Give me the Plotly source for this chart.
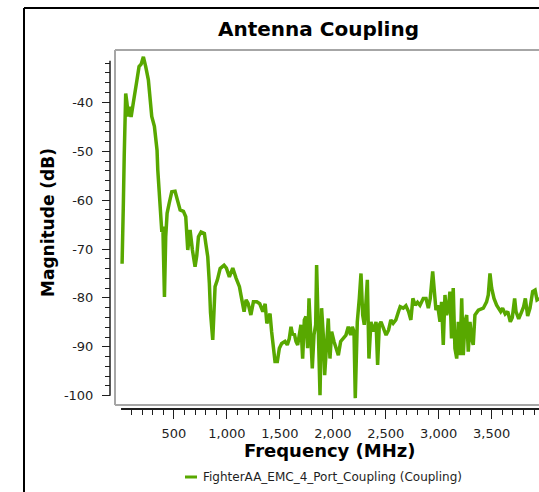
import plotly.graph_objects as go

title_text = "Antenna Coupling"
x_title = "Frequency (MHz)"
y_title = "Magnitude (dB)"
series_name = "FighterAA_EMC_4_Port_Coupling (Coupling)"

freq = [10, 15, 22, 30, 44, 55, 69, 80, 95, 116, 139, 150, 170, 190, 211, 222, 233, 258, 274, 290,
        315, 328, 340, 347, 359, 372, 385, 395, 410, 422, 435, 454, 479, 510, 535, 558, 589, 611, 630, 652,
        674, 699, 715, 731, 756, 787, 800, 819, 834, 845, 866, 876, 888, 910, 936, 973, 995, 1023, 1055, 1087,
        1118, 1141, 1162, 1181, 1200, 1226, 1250, 1282, 1310, 1339, 1361, 1377, 1395,
        1407, 1422, 1438, 1454, 1476, 1495, 1517, 1548, 1570, 1589, 1605, 1621, 1636, 1652, 1668, 1684, 1699, 1715, 1731, 1746,
        1762, 1775, 1791, 1806, 1822, 1838, 1847, 1863, 1879, 1894, 1910, 1923, 1942, 1957, 1973, 1989, 2011, 2030, 2052, 2074,
        2099, 2124, 2146, 2168, 2184, 2200, 2212, 2231, 2250, 2266, 2282, 2297, 2313, 2326, 2341, 2360, 2382, 2408, 2423, 2439,
        2455, 2480, 2503, 2526, 2548, 2570, 2595, 2620, 2636, 2665, 2690, 2715, 2737, 2756, 2778, 2800,
        2823, 2854, 2880, 2902, 2920, 2943, 2958, 2974, 2990, 3012, 3027, 3043, 3059, 3075, 3090, 3106, 3121, 3137, 3153, 3170,
        3185, 3201, 3217, 3232, 3248, 3264, 3279, 3295, 3311, 3326, 3342, 3374, 3421, 3452, 3468, 3484, 3500, 3522, 3547,
        3565, 3585, 3603, 3628, 3652, 3676, 3695, 3717, 3730, 3755, 3780, 3802, 3818, 3840, 3862, 3887, 3910, 3928, 3950]
magnitude = [-73.0, -69.5, -60.6, -51.1, -38.2, -40.0, -42.9, -40.9, -43.0, -40.1, -36.1, -35.5, -32.7, -32.2, -30.7, -31.5, -32.7, -35.4, -38.9, -42.9,
             -44.9, -47.0, -49.8, -53.8, -57.3, -61.3, -66.5, -65.4, -79.8, -67.5, -62.7, -60.7, -58.3, -58.2, -60.0, -62.0, -62.3, -63.4, -70.2, -66.1,
             -70.2, -73.6, -71.4, -67.5, -66.5, -66.8, -68.8, -71.6, -77.0, -83.0, -88.6, -83.5, -77.7, -76.3, -74.0, -73.3, -73.9, -75.7, -73.9, -76.0,
             -77.7, -80.4, -82.8, -80.4, -81.1, -83.5, -80.8, -80.8, -81.2, -82.8, -81.2, -85.2, -84.0,
             -83.2, -86.9, -91.0, -93.0, -93.0, -90.3, -89.3, -88.9, -89.6, -88.3, -85.9, -87.6, -87.3, -88.9, -89.6, -87.9, -85.5, -92.4, -84.5, -83.8,
             -90.3, -80.1, -88.9, -94.4, -87.6, -85.5, -73.3, -86.9, -99.9, -82.1, -87.6, -95.8, -88.3, -84.2, -92.4, -86.9, -88.9, -90.3, -91.7, -88.9,
             -88.3, -87.6, -85.9, -87.6, -85.9, -86.9, -100.5, -84.9, -80.1, -75.0, -83.5, -85.5, -80.8, -76.3, -92.4, -84.9, -86.9, -84.9, -93.7, -85.5,
             -84.9, -86.2, -87.6, -86.6, -84.5, -85.2, -84.5, -82.8, -81.8, -82.1, -81.6, -82.8, -84.5, -80.1, -81.5, -80.9,
             -81.5, -80.1, -80.1, -82.1, -80.1, -74.6, -78.7, -82.5, -81.5, -84.9, -80.8, -89.6, -79.4, -83.5, -82.1, -78.7, -88.3, -78.0, -90.3, -92.4,
             -84.9, -91.7, -80.1, -91.7, -84.9, -83.5, -91.0, -84.9, -88.3, -89.6, -83.5, -82.5, -82.1, -80.8, -79.4, -75.0, -78.0, -80.1, -81.5,
             -82.1, -82.8, -82.1, -83.3, -82.8, -84.9, -84.0, -80.1, -82.8, -84.3, -83.0, -81.8, -80.1, -83.7, -82.1, -78.7, -78.4, -80.4, -80.1]

x_tickvals = [500, 1000, 1500, 2000, 2500, 3000, 3500]
x_ticktext = ["500", "1,000", "1,500", "2,000", "2,500", "3,000", "3,500"]
x_minor = list(range(100, 4000, 100))
y_tickvals = [-100, -90, -80, -70, -60, -50, -40]
y_ticktext = ["-100", "-90", "-80", "-70", "-60", "-50", "-40"]
y_minor = list(range(-100, -31, 2))

W, H = 539, 492
ML, MR, MT, MB = 110, 0, 50, 83
PW, PH = W - ML - MR, H - MT - MB

def px(x):
    return (x - ML) / PW

def py(y):
    return (H - MB - y) / PH

green = "#58a800"
dark = "#1e1e1e"

fig = go.Figure()
fig.add_trace(go.Scatter(x=freq, y=magnitude, mode="lines", name=series_name,
                         line=dict(color=green, width=3.5), showlegend=False))

tickfont = dict(family="DejaVu Sans", size=13, color=dark)
fig.update_layout(
    width=W, height=H,
    margin=dict(l=ML, r=MR, t=MT, b=MB, pad=0),
    paper_bgcolor="white", plot_bgcolor="white",
    showlegend=False,
    xaxis=dict(domain=[5 / PW, 1], range=[-57, 3947], anchor="free", position=0,
               showgrid=False, zeroline=False, showline=False,
               tickmode="array", tickvals=x_tickvals, ticktext=x_ticktext,
               ticks="outside", ticklen=9, tickwidth=1, tickcolor=dark,
               tickfont=tickfont, ticklabelstandoff=3,
               minor=dict(tickmode="array", tickvals=x_minor, ticks="outside",
                          ticklen=5, tickwidth=1, tickcolor=dark, showgrid=False)),
    yaxis=dict(domain=[4 / PH, 1], range=[-101.9, -29.3], anchor="free", position=0,
               showgrid=False, zeroline=False, showline=False,
               tickmode="array", tickvals=y_tickvals, ticktext=y_ticktext,
               ticks="outside", ticklen=8, tickwidth=1, tickcolor=dark,
               tickfont=tickfont, ticklabelstandoff=6,
               minor=dict(tickmode="array", tickvals=y_minor, ticks="outside",
                          ticklen=5, tickwidth=1, tickcolor=dark, showgrid=False)),
)

shapes = []
gray = "#a6a6a6"
# plot area border (top, left, bottom)
shapes.append(dict(type="line", xref="x domain", yref="y domain", x0=0, x1=1, y0=1, y1=1,
                   line=dict(color=gray, width=2)))
shapes.append(dict(type="line", xref="x domain", yref="y domain", x0=0, x1=0, y0=0, y1=1,
                   line=dict(color=gray, width=2)))
shapes.append(dict(type="line", xref="x domain", yref="y domain", x0=0, x1=1, y0=0, y1=0,
                   line=dict(color=gray, width=2)))
# axis lines
shapes.append(dict(type="line", xref="paper", yref="y", x0=0, x1=0, y0=-100, y1=-31.5,
                   line=dict(color=dark, width=1.5)))
shapes.append(dict(type="line", xref="x", yref="paper", x0=0, x1=3947, y0=0, y1=0,
                   line=dict(color=dark, width=2)))
# outer frame
shapes.append(dict(type="line", xref="paper", yref="paper", x0=px(24), x1=px(24), y0=py(8), y1=py(H + 2),
                   line=dict(color="black", width=2)))
shapes.append(dict(type="line", xref="paper", yref="paper", x0=px(24), x1=px(W + 2), y0=py(8), y1=py(8),
                   line=dict(color="black", width=2)))
# legend sample
shapes.append(dict(type="line", xref="paper", yref="paper", x0=px(185), x1=px(197), y0=py(477), y1=py(477),
                   line=dict(color=green, width=3)))
fig.update_layout(shapes=shapes)

annotations = [
    dict(text=title_text, xref="paper", yref="paper", x=px(318), y=py(29), xanchor="center", yanchor="middle",
         showarrow=False, font=dict(family="DejaVu Sans", size=20, color="black", weight="bold")),
    dict(text=x_title, xref="paper", yref="paper", x=px(330), y=py(450), xanchor="center", yanchor="middle",
         showarrow=False, font=dict(family="DejaVu Sans", size=18, color="black", weight="bold")),
    dict(text=y_title, xref="paper", yref="paper", x=px(48), y=py(223), xanchor="center", yanchor="middle",
         textangle=-90, showarrow=False, font=dict(family="DejaVu Sans", size=17, color="black", weight="bold")),
    dict(text=series_name, xref="paper", yref="paper", x=px(201), y=py(477), xanchor="left", yanchor="middle",
         showarrow=False, font=dict(family="DejaVu Sans", size=12, color=dark)),
]
fig.update_layout(annotations=annotations)

fig.write_html("out.html")
